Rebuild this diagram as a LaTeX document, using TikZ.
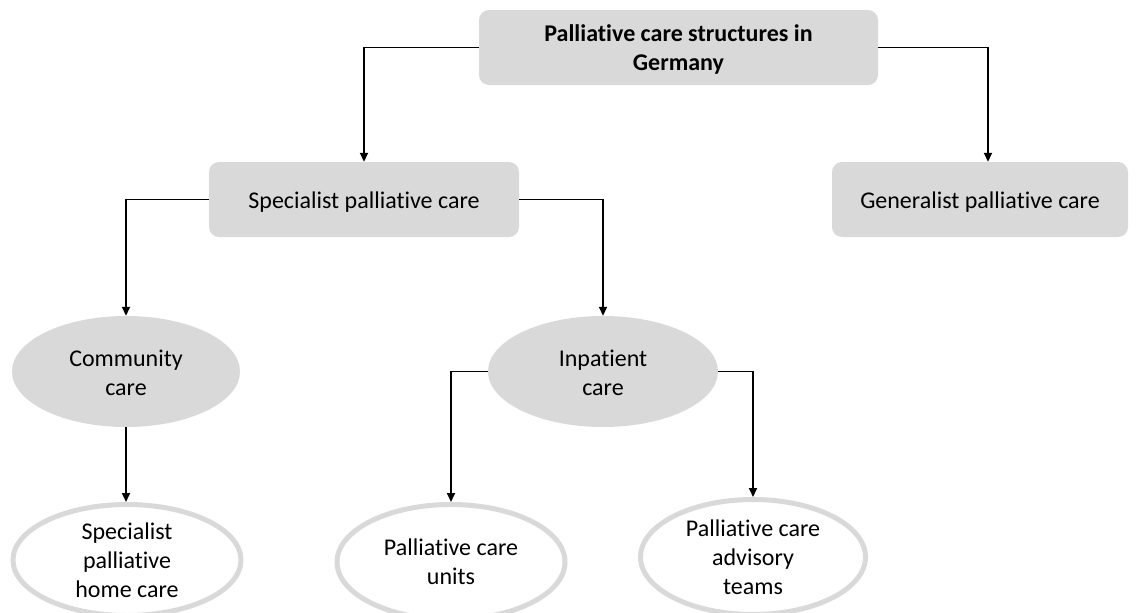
\documentclass[tikz,border=0pt]{standalone}
\usepackage{fontspec}
\setmainfont{Carlito}[Ligatures=NoCommon]
\usetikzlibrary{shapes.geometric,arrows.meta}
\definecolor{boxgray}{HTML}{D9D9D9}
\begin{document}
\begin{tikzpicture}[x=1pt,y=-1pt,
  every node/.style={font=\fontsize{24}{29}\selectfont, align=center, text=black, inner sep=0pt},
  rbox/.style={rectangle, rounded corners=10pt, fill=boxgray},
  gell/.style={ellipse, fill=boxgray},
  well/.style={ellipse, draw=boxgray, line width=5pt, fill=white, inner ysep=-6pt},
  conn/.style={draw=black, line width=1.8pt, -{Triangle[length=9pt,width=8pt]}}]
\useasboundingbox (0,0) rectangle (1138,613);
\node[rbox, minimum width=399pt, minimum height=75pt, font=\bfseries\fontsize{24}{29}\selectfont] (top) at (678.5,47.5) {\rule{0pt}{21pt}Palliative care structures in\\Germany};
\node[rbox, minimum width=310pt, minimum height=75pt] (spec) at (364,199.5) {\rule{0pt}{22pt}Specialist palliative care};
\node[rbox, minimum width=296pt, minimum height=75pt] (gen) at (980,199.5) {\rule{0pt}{22pt}Generalist palliative care};
\node[gell, minimum width=228pt, minimum height=111pt] (comm) at (126,371.5) {\rule{0pt}{20pt}Community\\care};
\node[gell, minimum width=230pt, minimum height=111pt] (inp) at (603,371.5) {\rule{0pt}{19pt}Inpatient\\care};
\node[well, minimum width=228pt, minimum height=111pt] (home) at (127,560) {Specialist\\palliative\\home care};
\node[well, minimum width=228pt, minimum height=115pt] (units) at (451,562) {Palliative care\\units};
\node[well, minimum width=225pt, minimum height=115pt] (adv) at (753,557) {Palliative care\\advisory\\teams};
\draw[conn] (top.west) -| (spec.north);
\draw[conn] (top.east) -| ([xshift=8pt]gen.north);
\draw[conn] (spec.west) -| (comm.north);
\draw[conn] (spec.east) -| (inp.north);
\draw[conn] (comm.south) -- (comm.south |- home.north);
\draw[conn] (inp.west) -| (units.north);
\draw[conn] (inp.east) -| (adv.north);
\end{tikzpicture}
\end{document}
